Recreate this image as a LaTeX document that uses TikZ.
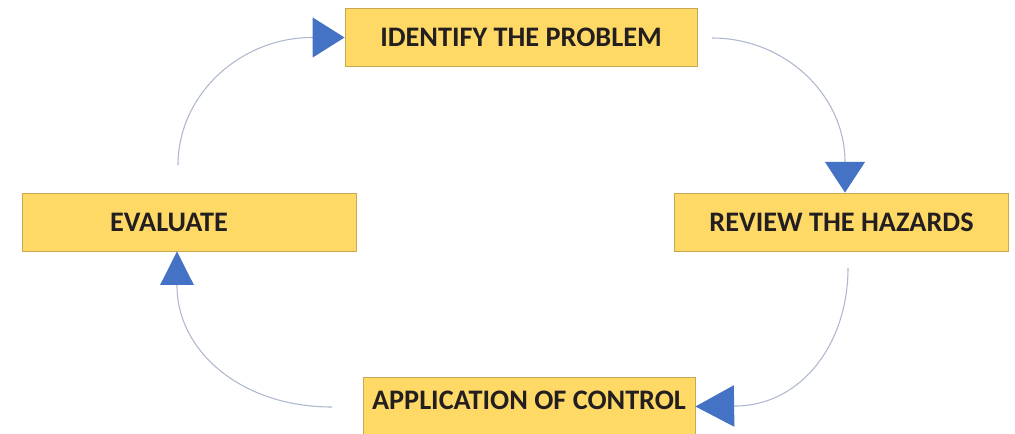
\documentclass[tikz,border=0pt]{standalone}
\usepackage{fontspec}
\setmainfont{Carlito}
\usetikzlibrary{arrows.meta,calc}
\definecolor{boxfill}{HTML}{FFD966}
\definecolor{boxline}{HTML}{C8A850}
\definecolor{arrowblue}{HTML}{4472C4}
\definecolor{linecol}{HTML}{AEB8CF}
\definecolor{txt}{HTML}{231F20}
\tikzset{
  stepbox/.style={draw=boxline, line width=0.7pt, fill=boxfill, text=txt,
    font=\fontsize{21.2}{24}\selectfont\bfseries, inner sep=0pt, minimum height=43.5pt},
  conn/.style={draw=linecol, line width=0.8pt},
}
\begin{document}
\begin{tikzpicture}[x=0.75pt,y=-0.75pt]
\path[use as bounding box, fill=white] (0,0) rectangle (1015,433);
\node[stepbox, minimum width=264pt] (id) at (521,37.5) {IDENTIFY THE PROBLEM};
\node[stepbox, minimum width=250pt, text width=119pt, inner xsep=65.25pt, align=left] (ev) at (189.5,222) {EVALUATE};
\node[stepbox, minimum width=250pt] (rv) at (841.5,222) {REVIEW THE HAZARDS};
\node[stepbox, minimum width=249pt, minimum height=44pt, text depth=9pt] (ap) at (529,406.5) {APPLICATION OF CONTROL};
\coordinate (t1) at (178,165);
\coordinate (t2) at (712,38);
\coordinate (t3) at (848,268);
\coordinate (t4) at (332,407);
\draw[conn, -{Triangle[length=24pt,width=30pt,color=arrowblue]}]
  (t1) .. controls (178,95) and (240,37.5) .. (312,37.5) -- (id.west);
\draw[conn, -{Triangle[length=23pt,width=30pt,color=arrowblue]}]
  (t2) .. controls (785,38) and (845,95) .. (845,162) -- ($(rv.north)+(3.5,0)$);
\draw[conn, -{Triangle[length=29pt,width=31pt,color=arrowblue]}]
  (t3) .. controls (848,345) and (800,406) .. (735,406) -- (ap.east);
\draw[conn, -{Triangle[length=25pt,width=25pt,color=arrowblue]}]
  (t4) .. controls (240,407) and (177,350) .. (177,286) -- ($(ev.south)+(-12.5,0)$);
\end{tikzpicture}
\end{document}
